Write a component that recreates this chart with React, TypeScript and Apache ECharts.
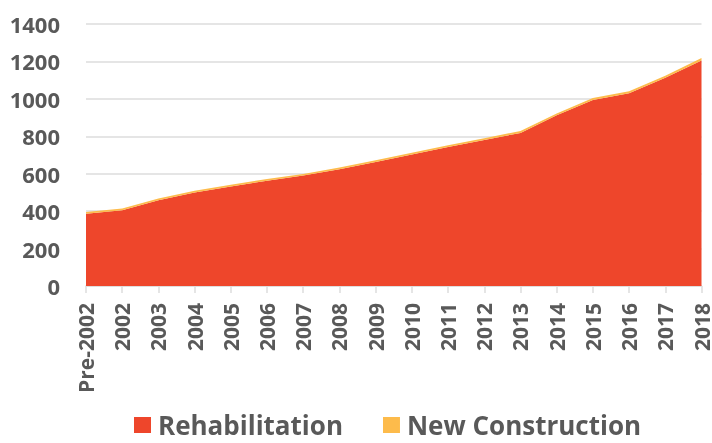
import React, { useEffect, useRef } from "react";
import * as echarts from "echarts";

const categories = ["Pre-2002", "2002", "2003", "2004", "2005", "2006", "2007", "2008", "2009", "2010", "2011", "2012", "2013", "2014", "2015", "2016", "2017", "2018"];
const rehabilitation = [386, 405, 458, 500, 532, 563, 590, 624, 663, 703, 743, 780, 818, 912, 994, 1030, 1113, 1205];
const newConstruction = [10, 9, 10, 9, 9, 9, 9, 9, 9, 9, 9, 10, 10, 10, 10, 10, 10, 13];
const yTicks = { min: 0, max: 1400, interval: 200 };

const TEXT = "#595959";
const FONT = "Open Sans";

export default function App() {
  const ref = useRef<HTMLDivElement>(null);
  useEffect(() => {
    if (!ref.current) return;
    const chart = echarts.init(ref.current, null, { renderer: "svg" });
    chart.setOption({
      animation: false,
      grid: { left: 86, right: 9, top: 24, bottom: 157, containLabel: false },
      legend: {
        bottom: 0,
        left: 129,
        itemWidth: 17,
        itemHeight: 16,
        itemGap: 40,
        icon: "rect",
        textStyle: { color: TEXT, fontSize: 26, fontWeight: "bold", fontFamily: FONT, padding: [0, 0, 0, 2] },
        data: ["Rehabilitation", "New Construction"],
      },
      xAxis: {
        type: "category",
        data: categories,
        boundaryGap: false,
        axisLine: { lineStyle: { color: "#dcdcdc", width: 1.5 } },
        axisTick: { length: 7, lineStyle: { color: "#dcdcdc", width: 1.5 } },
        axisLabel: {
          rotate: 90,
          margin: 17,
          interval: 0,
          color: TEXT,
          fontSize: 21,
          fontWeight: "bold",
          fontFamily: FONT,
        },
      },
      yAxis: {
        type: "value",
        min: yTicks.min,
        max: yTicks.max,
        interval: yTicks.interval,
        axisLine: { show: false },
        axisTick: { show: false },
        splitLine: { lineStyle: { color: "#dcdcdc", width: 1.5 } },
        axisLabel: {
          margin: 26,
          color: TEXT,
          fontSize: 22,
          fontWeight: "bold",
          fontFamily: FONT,
          formatter: (v: number) => String(v),
        },
      },
      series: [
        {
          name: "Rehabilitation",
          type: "line",
          stack: "total",
          data: rehabilitation,
          symbol: "none",
          lineStyle: { width: 0 },
          itemStyle: { color: "#ee462b" },
          areaStyle: { color: "#ee462b", opacity: 1 },
        },
        {
          name: "New Construction",
          type: "line",
          stack: "total",
          data: newConstruction,
          symbol: "none",
          lineStyle: { width: 0 },
          itemStyle: { color: "#fdbb4b" },
          areaStyle: { color: "#fdbb4b", opacity: 1 },
        },
      ],
    });
    return () => chart.dispose();
  }, []);
  return <div ref={ref} style={{ position: "fixed", left: 0, top: 0, width: 712, height: 443 }} />;
}
